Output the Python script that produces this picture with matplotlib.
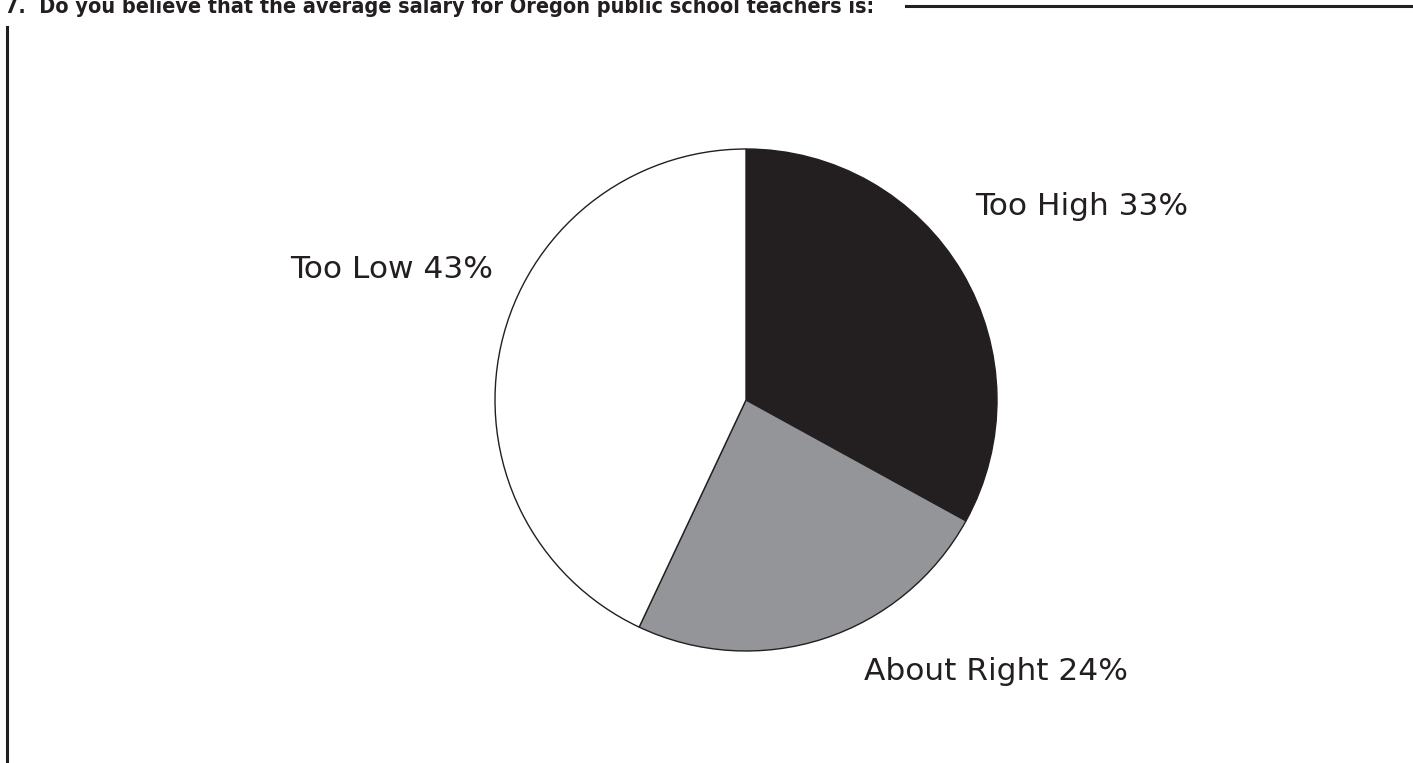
import matplotlib.pyplot as plt
from matplotlib.lines import Line2D

labels = ['Too High', 'About Right', 'Too Low']
values = [33, 24, 43]
colors = ['#231f20', '#939598', '#ffffff']

W, H = 1413, 763
fig = plt.figure(figsize=(W / 100, H / 100), dpi=100)

# pie centre ~ (745, 400) px, radius ~250 px
ax = fig.add_axes([495 / W, (H - 651) / H, 502 / W, 502 / H])
ax.pie(values, colors=colors, startangle=90, counterclock=False,
       wedgeprops=dict(edgecolor='#231f20', linewidth=1.0))
ax.set_xlim(-1.0, 1.0)
ax.set_ylim(-1.0, 1.0)
ax.set_aspect('equal')
ax.axis('off')

# labels
label_pos = [(975, 215), (864, 680), (290, 278)]
for lab, v, (px, py) in zip(labels, values, label_pos):
    fig.text(px / W, 1 - py / H, f'{lab} {v}%', fontsize=22.5,
             color='#231f20', ha='left', va='baseline')

# title, clipped at top like the scan
fig.text(5 / W, 1 - 13 / H,
         '7.  Do you believe that the average salary for Oregon public school teachers is:',
         fontsize=15.5, fontweight='bold', fontstretch='condensed',
         color='#231f20', ha='left', va='baseline')

fig.add_artist(Line2D([906 / W, 1], [1 - 6 / H, 1 - 6 / H], color='#231f20', lw=2.2))
fig.add_artist(Line2D([7 / W, 7 / W], [0, 1 - 27 / H], color='#231f20', lw=2.2))

fig.savefig('out.png', dpi=100)
